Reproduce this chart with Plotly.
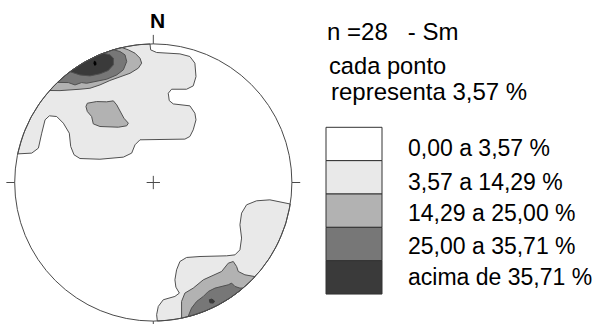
import numpy as np
import plotly.graph_objects as go

# Stereonet (equal-area, lower hemisphere) contour diagram of Sm poles.
# Contour outlines are given in unit-circle net coordinates (x = East, y = North).
N_POLES = 28
STEP = "3,57"

LEVEL_LABELS = ["0,00 a 3,57 %", "3,57 a 14,29 %", "14,29 a 25,00 %",
                "25,00 a 35,71 %", "acima de 35,71 %"]
LEVEL_COLORS = ["#ffffff", "#e9e9e9", "#b2b2b2", "#777777", "#3a3a3a"]

# Open contour lines that start and end on the primitive circle
north_lvl1 = [(-0.024, 1.000), (-0.019, 0.957), (0.024, 0.938), (0.192, 0.928), (0.264, 0.909),
              (0.300, 0.861), (0.308, 0.764), (0.288, 0.697), (0.240, 0.673), (0.132, 0.673),
              (0.108, 0.644), (0.115, 0.591), (0.144, 0.567), (0.264, 0.553), (0.300, 0.500),
              (0.308, 0.452), (0.288, 0.380), (0.264, 0.332), (0.228, 0.313), (-0.096, 0.308),
              (-0.132, 0.272), (-0.156, 0.212), (-0.216, 0.183), (-0.385, 0.168), (-0.529, 0.173),
              (-0.572, 0.200), (-0.596, 0.260), (-0.606, 0.356), (-0.649, 0.428), (-0.697, 0.476),
              (-0.750, 0.481), (-0.781, 0.452), (-0.805, 0.356), (-0.829, 0.248), (-0.877, 0.212),
              (-0.981, 0.207)]
north_lvl2 = [(-0.228, 0.976), (-0.180, 0.957), (-0.132, 0.933), (-0.096, 0.897), (-0.084, 0.861),
              (-0.108, 0.825), (-0.168, 0.788), (-0.240, 0.764), (-0.313, 0.736), (-0.385, 0.704),
              (-0.457, 0.680), (-0.529, 0.673), (-0.589, 0.668), (-0.673, 0.663), (-0.745, 0.661)]
north_lvl3 = [(-0.288, 0.957), (-0.240, 0.945), (-0.204, 0.921), (-0.192, 0.873), (-0.216, 0.813),
              (-0.264, 0.776), (-0.337, 0.745), (-0.409, 0.728), (-0.481, 0.716), (-0.517, 0.721),
              (-0.565, 0.704), (-0.613, 0.721), (-0.697, 0.728)]
north_lvl4 = [(-0.361, 0.933), (-0.313, 0.921), (-0.288, 0.897), (-0.288, 0.849), (-0.325, 0.808),
              (-0.385, 0.784), (-0.457, 0.769), (-0.529, 0.776), (-0.601, 0.800)]
south_lvl1 = [(0.981, -0.154), (0.913, -0.137), (0.841, -0.125), (0.745, -0.132), (0.673, -0.161),
              (0.637, -0.221), (0.625, -0.305), (0.637, -0.401), (0.625, -0.486), (0.589, -0.522),
              (0.529, -0.529), (0.337, -0.534), (0.240, -0.541), (0.192, -0.570), (0.168, -0.630),
              (0.156, -0.702), (0.163, -0.755), (0.188, -0.798), (0.156, -0.822), (0.072, -0.846),
              (0.036, -0.894), (0.024, -0.954), (0.029, -0.998)]
south_lvl2 = [(0.733, -0.678), (0.661, -0.666), (0.613, -0.642), (0.601, -0.606), (0.577, -0.570),
              (0.541, -0.582), (0.493, -0.642), (0.421, -0.678), (0.361, -0.702), (0.288, -0.762),
              (0.228, -0.798), (0.204, -0.858), (0.204, -0.978)]
south_lvl3 = [(0.649, -0.762), (0.625, -0.762), (0.589, -0.750), (0.565, -0.726), (0.541, -0.738),
              (0.493, -0.750), (0.445, -0.762), (0.397, -0.786), (0.361, -0.822), (0.313, -0.858),
              (0.276, -0.906), (0.252, -0.974)]

# Closed contours lying inside the net
patch_lvl2 = [(-0.476, 0.572), (-0.409, 0.584), (-0.337, 0.582), (-0.288, 0.589), (-0.264, 0.560),
              (-0.240, 0.512), (-0.212, 0.464), (-0.180, 0.428), (-0.192, 0.409), (-0.252, 0.399),
              (-0.385, 0.404), (-0.433, 0.423), (-0.445, 0.476), (-0.476, 0.512), (-0.486, 0.548)]
south_lvl4 = [(0.404, -0.846), (0.423, -0.841), (0.442, -0.856), (0.433, -0.870), (0.409, -0.868)]
north_max = [(-0.425, 0.875), (-0.416, 0.870), (-0.413, 0.851), (-0.423, 0.846), (-0.428, 0.861)]


def close_on_circle(pts):
    """Snap the ends to the primitive and close the region along the shorter arc."""
    p = np.array(pts, dtype=float)
    for i in (0, -1):
        p[i] /= np.hypot(*p[i])
    a_start = np.arctan2(p[0, 1], p[0, 0])
    a_end = np.arctan2(p[-1, 1], p[-1, 0])
    d = (a_start - a_end + np.pi) % (2 * np.pi) - np.pi
    arc = a_end + d * np.linspace(0, 1, 60)
    xs = np.concatenate([p[:, 0], np.cos(arc)])
    ys = np.concatenate([p[:, 1], np.sin(arc)])
    return xs, ys


def closed(pts):
    p = np.array(pts + [pts[0]], dtype=float)
    return p[:, 0], p[:, 1]


fig = go.Figure()
EDGE = "#505050"


def add_region(xs, ys, color, line=True):
    fig.add_trace(go.Scatter(x=xs, y=ys, mode="lines", fill="toself", fillcolor=color,
                             line=dict(color=EDGE if line else color, width=1),
                             hoverinfo="skip", showlegend=False))


add_region(*close_on_circle(north_lvl1), LEVEL_COLORS[1])
add_region(*close_on_circle(south_lvl1), LEVEL_COLORS[1])
add_region(*close_on_circle(north_lvl2), LEVEL_COLORS[2])
add_region(*close_on_circle(south_lvl2), LEVEL_COLORS[2])
add_region(*closed(patch_lvl2), LEVEL_COLORS[2])
add_region(*close_on_circle(north_lvl3), LEVEL_COLORS[3])
add_region(*close_on_circle(south_lvl3), LEVEL_COLORS[3])
add_region(*close_on_circle(north_lvl4), LEVEL_COLORS[4])
add_region(*closed(south_lvl4), LEVEL_COLORS[4], line=False)
add_region(*closed(north_max), "#000000", line=False)

W, H = 599, 324
CX, CY, R = 153.3, 182.5, 138.6
NET = "#4a4a4a"

shapes = [dict(type="circle", xref="x", yref="y", x0=-1, y0=-1, x1=1, y1=1,
               line=dict(color=NET, width=1), layer="above")]
# cardinal ticks and centre cross
for (x0, y0, x1, y1) in [(0, 1, 0, 1.065), (0, -1, 0, -1.065), (-1, 0, -1.06, 0),
                         (1, 0, 1.06, 0), (-0.048, 0, 0.048, 0), (0, -0.048, 0, 0.048)]:
    shapes.append(dict(type="line", xref="x", yref="y", x0=x0, y0=y0, x1=x1, y1=y1,
                       line=dict(color=NET, width=1)))

FONT = "Liberation Sans, Arial, sans-serif"


def px(x):
    return x / W


def py(y):
    return 1 - y / H


annotations = [
    dict(text="<b>N</b>", x=px(157.5), y=py(21), xref="paper", yref="paper",
         showarrow=False, xanchor="center", yanchor="middle",
         font=dict(family=FONT, size=21, color="#000")),
    dict(text=f"n ={N_POLES}   - Sm", x=px(325), y=py(31.7), xref="paper", yref="paper",
         showarrow=False, xanchor="left", yanchor="middle",
         font=dict(family=FONT, size=24, color="#000")),
    dict(text="cada ponto", x=px(326.5), y=py(66), xref="paper", yref="paper",
         showarrow=False, xanchor="left", yanchor="middle",
         font=dict(family=FONT, size=23.7, color="#000")),
    dict(text=f"representa {STEP} %", x=px(329), y=py(91.7), xref="paper", yref="paper",
         showarrow=False, xanchor="left", yanchor="middle",
         font=dict(family=FONT, size=24, color="#000")),
]

# Legend swatches and labels
BOX_X0, BOX_X1, BOX_TOP, BOX_H = 326, 382, 127.3, 33.35
LABEL_Y = [148.5, 181.7, 213.3, 245.8, 276.7]
for i, (lab, col) in enumerate(zip(LEVEL_LABELS, LEVEL_COLORS)):
    y0 = BOX_TOP + i * BOX_H
    shapes.append(dict(type="rect", xref="paper", yref="paper",
                       x0=px(BOX_X0), x1=px(BOX_X1), y0=py(y0), y1=py(y0 + BOX_H),
                       fillcolor=col, line=dict(color="#333333", width=1)))
    annotations.append(dict(text=lab, x=px(406.5), y=py(LABEL_Y[i]), xref="paper", yref="paper",
                            showarrow=False, xanchor="left", yanchor="middle",
                            font=dict(family=FONT, size=23, color="#000")))

fig.update_layout(
    width=W, height=H, margin=dict(l=0, r=0, t=0, b=0),
    paper_bgcolor="white", plot_bgcolor="white",
    xaxis=dict(range=[-CX / R, (W - CX) / R], visible=False, fixedrange=True),
    yaxis=dict(range=[-(H - CY) / R, CY / R], visible=False, fixedrange=True),
    shapes=shapes, annotations=annotations, showlegend=False,
)

fig.write_html("out.html")
